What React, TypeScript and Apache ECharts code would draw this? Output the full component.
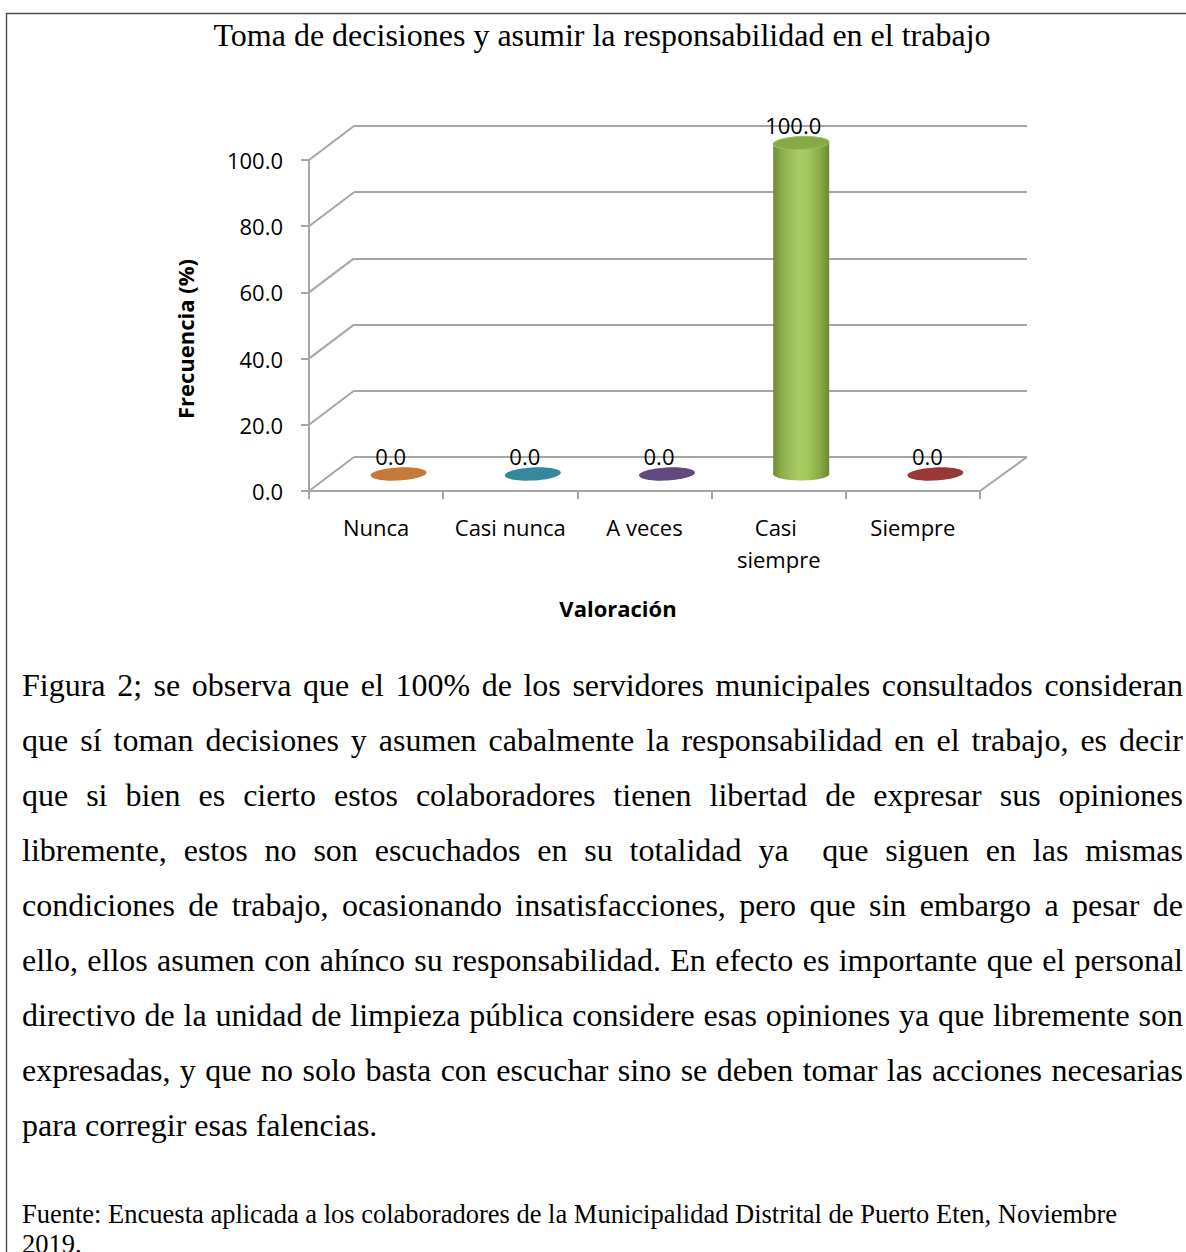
import React, { useEffect, useRef } from "react";
import * as echarts from "echarts";

const titleText = "Toma de decisiones y asumir la responsabilidad en el trabajo";
const categories = ["Nunca", "Casi nunca", "A veces", "Casi siempre", "Siempre"];
const values = [0.0, 0.0, 0.0, 100.0, 0.0];
const colors = ["#c57a3a", "#35899f", "#61497d", "#9bbb59", "#993836"];
const yTicks = [0, 20, 40, 60, 80, 100];
const yAxisName = "Frecuencia (%)";
const xAxisName = "Valoración";

const paragraphLines = [
  "Figura 2; se observa que el 100% de los servidores municipales consultados consideran",
  "que sí toman decisiones y asumen cabalmente la responsabilidad en el trabajo, es decir",
  "que si bien es cierto estos colaboradores tienen libertad de expresar sus opiniones",
  "libremente, estos no son escuchados en su totalidad ya  que siguen en las mismas",
  "condiciones de trabajo, ocasionando insatisfacciones, pero que sin embargo a pesar de",
  "ello, ellos asumen con ahínco su responsabilidad. En efecto es importante que el personal",
  "directivo de la unidad de limpieza pública considere esas opiniones ya que libremente son",
  "expresadas, y que no solo basta con escuchar sino se deben tomar las acciones necesarias",
  "para corregir esas falencias.",
];
const sourceLines = [
  "Fuente: Encuesta aplicada a los colaboradores de la Municipalidad Distrital de Puerto Eten, Noviembre",
  "2019.",
];

const SANS = "'Open Sans', 'Noto Sans', sans-serif";
const SERIF = "'Liberation Serif', 'DejaVu Serif', serif";
const GRID_COLOR = "#a6a6a6";
const DEPTH_X = 45;
const DEPTH_Y = -34;

export default function App() {
  const ref = useRef<HTMLDivElement>(null);

  useEffect(() => {
    if (!ref.current) return;
    const chart = echarts.init(ref.current, undefined, { renderer: "svg" });

    const option: any = {
      animation: false,
      backgroundColor: "transparent",
      title: {
        text: titleText,
        left: 597,
        top: 14,
        textAlign: "center",
        textStyle: { fontFamily: SERIF, fontSize: 32, fontWeight: "normal", color: "#000" },
      },
      grid: [
        { left: 309, top: 160, width: 671, height: 331 },
        { left: 309 + DEPTH_X, top: 160 + DEPTH_Y, width: 673, height: 331 },
      ],
      xAxis: [
        {
          gridIndex: 0,
          type: "category",
          data: categories,
          axisLine: { show: true, lineStyle: { color: GRID_COLOR, width: 2 } },
          axisTick: { show: true, length: 8, lineStyle: { color: GRID_COLOR, width: 2 } },
          axisLabel: {
            interval: 0,
            fontFamily: SANS,
            fontSize: 22,
            color: "#000",
            margin: 20,
            lineHeight: 32,
            width: 125,
            overflow: "break",
          },
          splitLine: { show: false },
        },
        { gridIndex: 0, type: "value", min: 0, max: categories.length, show: false },
        { gridIndex: 1, type: "value", min: 0, max: categories.length, show: false },
      ],
      yAxis: [
        {
          gridIndex: 0,
          type: "value",
          min: 0,
          max: 100,
          interval: 20,
          axisLine: { show: true, lineStyle: { color: GRID_COLOR, width: 2 } },
          axisTick: { show: true, length: 8, lineStyle: { color: GRID_COLOR, width: 2 } },
          axisLabel: {
            fontFamily: SANS,
            fontSize: 22,
            color: "#000",
            margin: 26,
            padding: [6, 0, 0, 0],
            formatter: (v: number) => v.toFixed(1),
          },
          splitLine: { show: false },
        },
        {
          gridIndex: 1,
          type: "value",
          min: 0,
          max: 100,
          interval: 20,
          axisLine: { show: false },
          axisTick: { show: false },
          axisLabel: { show: false },
          splitLine: { show: true, lineStyle: { color: GRID_COLOR, width: 2 } },
        },
      ],
      graphic: [
        {
          type: "line",
          shape: { x1: 6, y1: 13.5, x2: 1186, y2: 13.5 },
          style: { stroke: "#4a4a4a", lineWidth: 1.4 },
        },
        {
          type: "line",
          shape: { x1: 6.5, y1: 13, x2: 6.5, y2: 1252 },
          style: { stroke: "#4a4a4a", lineWidth: 1.4 },
        },
        {
          type: "text",
          x: 185,
          y: 339,
          rotation: Math.PI / 2,
          style: {
            text: yAxisName,
            fontFamily: SANS,
            fontSize: 22,
            fontWeight: "bold",
            fill: "#000",
            align: "center",
            verticalAlign: "middle",
          },
        },
        {
          type: "text",
          x: 618,
          y: 608,
          style: {
            text: xAxisName,
            fontFamily: SANS,
            fontSize: 22,
            fontWeight: "bold",
            fill: "#000",
            align: "center",
            verticalAlign: "middle",
          },
        },
      ],
      series: [
        {
          type: "custom",
          name: "walls",
          xAxisIndex: 1,
          yAxisIndex: 0,
          silent: true,
          z: 1,
          data: yTicks.map((v) => [0, v]),
          renderItem: (params: any, api: any) => {
            const p = api.coord([0, api.value(1)]);
            const children: any[] = [
              {
                type: "line",
                shape: { x1: p[0], y1: p[1], x2: p[0] + DEPTH_X, y2: p[1] + DEPTH_Y },
                style: { stroke: GRID_COLOR, lineWidth: 2 },
              },
            ];
            if (params.dataIndex === 0) {
              const q = api.coord([categories.length, 0]);
              children.push({
                type: "line",
                shape: { x1: q[0], y1: q[1], x2: q[0] + DEPTH_X + 2, y2: q[1] + DEPTH_Y },
                style: { stroke: GRID_COLOR, lineWidth: 2 },
              });
            }
            return { type: "group", children };
          },
        },
        {
          type: "custom",
          name: "Frecuencia",
          xAxisIndex: 0,
          yAxisIndex: 0,
          silent: true,
          z: 5,
          data: values.map((v, i) => [i, v]),
          renderItem: (params: any, api: any) => {
            const i = api.value(0);
            const v = api.value(1);
            const top = api.coord([i, v]);
            const base = api.coord([i, 0]);
            const dx = DEPTH_X / 2;
            const dy = DEPTH_Y / 2;
            const cx = top[0] + dx;
            const ty = top[1] + dy;
            const by = base[1] + dy;
            const rx = 28;
            const ry = 6.5;
            const color = colors[i];
            const children: any[] = [];
            if (v > 0) {
              const body = new echarts.graphic.LinearGradient(0, 0, 1, 0, [
                { offset: 0, color: "#6f8a37" },
                { offset: 0.15, color: "#8cad4a" },
                { offset: 0.45, color: "#a8cc62" },
                { offset: 0.62, color: "#a2c75c" },
                { offset: 0.85, color: "#88a846" },
                { offset: 1, color: "#6c8735" },
              ]);
              children.push({
                type: "ellipse",
                shape: { cx, cy: by, rx, ry },
                style: { fill: body },
              });
              children.push({
                type: "rect",
                shape: { x: cx - rx, y: ty, width: rx * 2, height: by - ty },
                style: { fill: body },
              });
              children.push({
                type: "ellipse",
                x: cx,
                y: ty,
                rotation: 0.04,
                shape: { cx: 0, cy: 0, rx, ry },
                style: { fill: "#87a946", stroke: "#9cc058", lineWidth: 1 },
              });
            } else {
              children.push({
                type: "ellipse",
                x: cx,
                y: ty,
                rotation: 0.05,
                shape: { cx: 0, cy: 0, rx, ry },
                style: { fill: color },
              });
            }
            children.push({
              type: "text",
              x: cx - 8,
              y: ty - 18,
              style: {
                text: Number(v).toFixed(1),
                fontFamily: SANS,
                fontSize: 22,
                fill: "#000",
                align: "center",
                verticalAlign: "middle",
              },
            });
            return { type: "group", children };
          },
        },
      ],
    };

    chart.setOption(option);
    return () => chart.dispose();
  }, []);

  const lineStyle = (i: number, last: boolean): React.CSSProperties => ({
    position: "absolute",
    left: 22,
    top: 658 + i * 55,
    width: 1161,
    height: 55,
    fontFamily: SERIF,
    fontSize: 32,
    lineHeight: "55px",
    color: "#000",
    textAlign: last ? "left" : "justify",
    textAlignLast: last ? "left" : "justify",
    whiteSpace: "pre-wrap",
    overflow: "visible",
  } as any);

  return (
    <div
      style={{
        position: "absolute",
        left: 0,
        top: 0,
        width: 1186,
        height: 1252,
        background: "#fff",
        overflow: "hidden",
      }}
    >
      <div ref={ref} style={{ position: "absolute", left: 0, top: 0, width: 1186, height: 1252 }} />
      {paragraphLines.map((t, i) => (
        <div key={i} style={lineStyle(i, i === paragraphLines.length - 1)}>
          {t}
        </div>
      ))}
      {sourceLines.map((t, i) => (
        <div
          key={"s" + i}
          style={{
            position: "absolute",
            left: 22,
            top: 1199 + i * 30,
            fontFamily: SERIF,
            fontSize: 26.5,
            lineHeight: "30px",
            color: "#000",
            whiteSpace: "nowrap",
          }}
        >
          {t}
        </div>
      ))}
    </div>
  );
}
